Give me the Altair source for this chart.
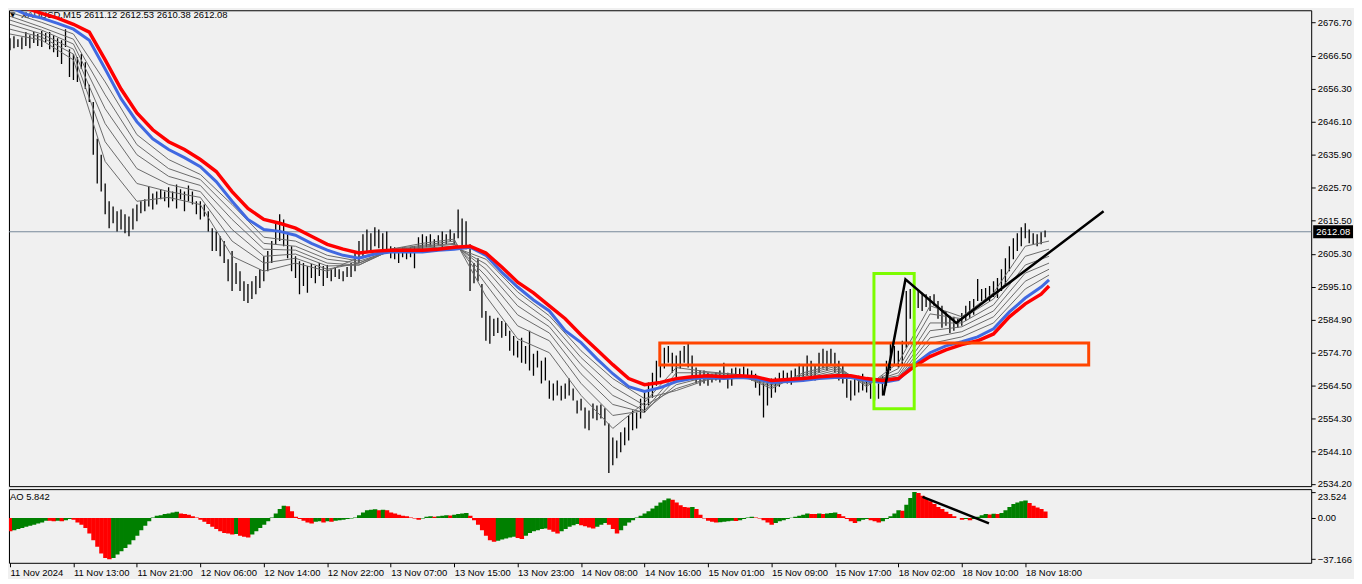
import altair as alt
import pandas as pd

# ---------------- data ----------------
symbol = "XAUUSD,M15"
last_ohlc = [2611.12, 2612.53, 2610.38, 2612.08]
last_price = 2612.08
ao_last = 5.842

price_ticks = [2534.20, 2544.10, 2554.30, 2564.50, 2574.70, 2584.90, 2595.10, 2605.30,
               2615.50, 2625.70, 2635.90, 2646.10, 2656.30, 2666.50, 2676.70]
time_labels = ["11 Nov 2024", "11 Nov 13:00", "11 Nov 21:00", "12 Nov 06:00", "12 Nov 14:00",
               "12 Nov 22:00", "13 Nov 07:00", "13 Nov 15:00", "13 Nov 23:00", "14 Nov 08:00",
               "14 Nov 16:00", "15 Nov 01:00", "15 Nov 09:00", "15 Nov 17:00", "18 Nov 02:00",
               "18 Nov 10:00", "18 Nov 18:00"]
bars_per_label = 32
ao_axis_values = [23.524, 0.0, -37.166]

# bar high / low (every second M15 bar)
bar_high = [
    2671.9, 2672.5, 2671.6, 2672.2, 2673.8, 2672.8, 2673.8, 2673.2, 2674.1, 2673.5,
    2673.8, 2672.8, 2671.9, 2671.3, 2674.7, 2668.5, 2667.0, 2666.1, 2667.0, 2664.5,
    2657.5, 2652.2, 2640.8, 2635.9, 2627.0, 2621.5, 2619.9, 2618.4, 2619.0, 2617.5,
    2616.8, 2619.3, 2620.5, 2621.5, 2622.1, 2626.1, 2623.9, 2624.5, 2625.2, 2624.5,
    2625.8, 2624.5, 2626.7, 2625.2, 2624.5, 2626.4, 2624.5, 2621.5, 2621.5, 2620.5,
    2618.4, 2613.2, 2612.2, 2610.7, 2609.2, 2603.6, 2606.1, 2602.4, 2599.9, 2596.8,
    2595.9, 2596.8, 2598.4, 2600.5, 2604.5, 2606.1, 2609.2, 2615.3, 2617.5, 2615.9,
    2611.3, 2607.6, 2604.5, 2603.0, 2602.4, 2601.5, 2602.1, 2601.5, 2602.4, 2601.5,
    2601.8, 2600.5, 2601.2, 2600.5, 2599.9, 2601.2, 2602.4, 2606.1, 2609.2, 2611.3,
    2612.8, 2611.6, 2613.5, 2612.8, 2611.6, 2612.2, 2607.6, 2607.3, 2606.7, 2607.3,
    2607.0, 2607.3, 2607.6, 2610.4, 2611.3, 2610.7, 2611.3, 2609.8, 2611.0, 2612.2,
    2611.3, 2612.8, 2611.6, 2619.0, 2616.2, 2615.3, 2608.2, 2602.4, 2603.9, 2595.9,
    2587.6, 2586.1, 2585.2, 2585.5, 2584.5, 2583.9, 2581.5, 2579.9, 2578.4, 2579.3,
    2576.8, 2581.5, 2574.4, 2575.3, 2572.2, 2573.2, 2566.1, 2565.2, 2566.1, 2564.5,
    2565.2, 2566.7, 2563.6, 2559.9, 2560.5, 2557.8, 2556.8, 2559.0, 2558.4, 2558.7,
    2557.5, 2552.8, 2548.5, 2547.6, 2550.1, 2551.6, 2555.3, 2556.8, 2556.2, 2560.5,
    2563.0, 2565.5, 2568.5, 2572.2, 2574.4, 2576.2, 2576.8, 2574.7, 2573.8, 2575.3,
    2576.8, 2577.5, 2573.8, 2570.1, 2569.2, 2569.2, 2568.5, 2568.2, 2568.5, 2569.2,
    2571.6, 2568.5, 2569.8, 2570.1, 2569.8, 2570.4, 2569.8, 2569.2, 2568.2, 2566.7,
    2565.2, 2566.1, 2566.7, 2567.0, 2568.5, 2569.2, 2568.5, 2569.2, 2569.8, 2571.3,
    2570.7, 2573.8, 2572.2, 2570.7, 2574.7, 2575.9, 2575.3, 2575.9, 2574.7, 2572.2,
    2570.7, 2567.0, 2566.1, 2567.0, 2567.6, 2568.2, 2566.7, 2565.5, 2564.5, 2565.2,
    2567.6, 2572.2, 2577.5, 2576.8, 2575.3, 2578.4, 2593.8, 2594.4, 2594.7, 2593.8,
    2593.2, 2592.8, 2592.2, 2592.8, 2590.7, 2589.2, 2587.6, 2586.1, 2585.8, 2585.2,
    2587.0, 2589.2, 2590.7, 2591.3, 2597.5, 2594.4, 2594.7, 2595.3, 2596.8, 2597.8,
    2600.5, 2603.9, 2607.6, 2610.1, 2611.6, 2613.5, 2614.7, 2612.8, 2611.6, 2611.3,
    2611.9, 2612.5]
bar_low = [
    2668.2, 2668.8, 2669.2, 2668.5, 2669.5, 2668.8, 2670.4, 2669.5, 2669.2, 2670.7,
    2668.5, 2667.6, 2666.1, 2663.9, 2669.2, 2659.9, 2659.0, 2658.4, 2662.4, 2656.2,
    2652.2, 2635.9, 2627.0, 2624.5, 2617.5, 2613.2, 2614.7, 2612.2, 2612.8, 2611.6,
    2610.7, 2612.8, 2615.3, 2617.8, 2618.4, 2619.9, 2619.0, 2620.5, 2622.1, 2621.5,
    2619.6, 2621.5, 2619.3, 2622.1, 2618.4, 2621.5, 2620.5, 2617.5, 2615.9, 2616.8,
    2612.2, 2606.1, 2606.1, 2604.5, 2602.4, 2596.8, 2593.8, 2595.9, 2593.8, 2590.7,
    2590.1, 2591.3, 2592.8, 2594.7, 2596.8, 2599.9, 2602.4, 2608.2, 2609.2, 2607.6,
    2603.9, 2599.9, 2597.8, 2592.8, 2595.3, 2593.2, 2597.8, 2596.2, 2598.4, 2595.3,
    2597.8, 2596.8, 2598.1, 2597.5, 2596.8, 2598.1, 2598.1, 2599.9, 2602.4, 2603.9,
    2605.5, 2606.1, 2607.6, 2607.0, 2606.1, 2606.7, 2603.9, 2603.6, 2602.4, 2604.2,
    2603.6, 2604.2, 2600.8, 2606.1, 2606.7, 2607.3, 2607.6, 2606.7, 2607.9, 2607.3,
    2608.2, 2609.2, 2607.9, 2610.1, 2607.6, 2606.7, 2593.8, 2596.2, 2596.8, 2585.5,
    2578.4, 2577.5, 2579.9, 2580.8, 2579.3, 2579.9, 2575.3, 2573.8, 2573.2, 2571.6,
    2571.3, 2569.2, 2567.6, 2570.1, 2565.2, 2566.1, 2560.5, 2559.9, 2561.5, 2559.9,
    2560.5, 2561.5, 2559.9, 2555.9, 2556.8, 2551.3, 2550.7, 2554.4, 2553.8, 2554.4,
    2552.2, 2537.5, 2539.9, 2542.1, 2543.9, 2546.1, 2547.6, 2550.7, 2551.3, 2554.4,
    2556.2, 2558.4, 2560.8, 2564.5, 2567.0, 2569.8, 2571.6, 2568.5, 2567.0, 2569.8,
    2571.6, 2570.1, 2566.1, 2565.2, 2564.5, 2565.2, 2564.5, 2565.5, 2566.1, 2565.5,
    2566.7, 2563.6, 2564.5, 2566.7, 2567.0, 2566.7, 2567.3, 2566.1, 2563.9, 2561.5,
    2554.7, 2558.4, 2560.8, 2562.4, 2564.2, 2565.5, 2565.2, 2564.8, 2566.1, 2566.1,
    2566.7, 2567.6, 2567.0, 2566.1, 2568.5, 2569.8, 2569.2, 2570.7, 2568.5, 2566.1,
    2565.2, 2560.8, 2559.9, 2561.5, 2562.4, 2563.0, 2562.4, 2560.5, 2559.9, 2560.5,
    2561.5, 2564.5, 2569.2, 2570.7, 2570.1, 2570.7, 2576.2, 2585.2, 2589.2, 2588.5,
    2587.6, 2588.8, 2587.6, 2589.2, 2585.2, 2582.4, 2583.0, 2580.8, 2581.5, 2582.4,
    2583.0, 2584.5, 2585.5, 2586.4, 2590.7, 2590.7, 2590.7, 2590.7, 2591.9, 2591.6,
    2593.8, 2595.9, 2599.9, 2603.6, 2606.1, 2607.6, 2610.1, 2608.5, 2608.2, 2607.6,
    2608.2, 2610.4]

# thick moving averages, every 8 bars plus the last bar
red_ma = [
    2683.3, 2681.2, 2679.6, 2678.1, 2676.2, 2673.8, 2665.2, 2656.2, 2648.8, 2643.6,
    2639.9, 2637.5, 2634.4, 2630.7, 2624.5, 2619.3, 2615.9, 2614.7, 2613.2, 2610.7,
    2608.2, 2606.7, 2605.5, 2606.1, 2606.4, 2606.4, 2606.4, 2606.7, 2607.3, 2607.6,
    2605.5, 2601.2, 2596.5, 2593.2, 2589.2, 2585.2, 2580.2, 2575.6, 2571.0, 2566.7,
    2564.8, 2565.5, 2566.7, 2567.3, 2567.6, 2567.3, 2567.6, 2567.3, 2566.1, 2566.4,
    2566.7, 2567.3, 2567.6, 2567.6, 2566.7, 2566.1, 2566.7, 2570.4, 2573.5, 2575.6,
    2577.2, 2578.4, 2580.5, 2585.8, 2589.8, 2592.8, 2595.3]
blue_ma = [
    2681.5, 2679.3, 2678.1, 2676.5, 2674.7, 2671.3, 2662.4, 2653.2, 2646.1, 2640.8,
    2637.5, 2635.0, 2632.2, 2627.6, 2621.5, 2615.9, 2612.8, 2612.2, 2611.0, 2608.5,
    2606.4, 2604.8, 2603.9, 2605.2, 2605.8, 2605.8, 2605.8, 2606.4, 2606.7, 2607.3,
    2604.8, 2599.6, 2595.0, 2591.0, 2587.6, 2581.5, 2577.8, 2572.8, 2568.2, 2564.2,
    2562.7, 2563.9, 2565.8, 2566.7, 2567.0, 2566.7, 2567.0, 2566.7, 2565.5, 2565.8,
    2566.1, 2566.7, 2567.0, 2567.0, 2566.1, 2565.5, 2566.4, 2571.0, 2574.7, 2576.8,
    2578.1, 2579.6, 2582.1, 2587.3, 2591.6, 2595.0, 2597.2]

# thin grey moving averages, every 16 bars plus the last bar (fastest first)
gray_ma_1 = [2673.2, 2671.3, 2665.2, 2633.8, 2621.5, 2622.7, 2620.5, 2604.5, 2599.9, 2602.4,
             2599.9, 2604.2, 2606.7, 2608.5, 2609.8, 2592.2, 2579.0, 2574.7, 2561.5, 2551.3,
             2559.3, 2570.1, 2568.8, 2567.9, 2563.6, 2568.5, 2571.0, 2564.2, 2571.6, 2589.2,
             2585.8, 2593.2, 2607.6, 2609.2]
gray_ma_2 = [2674.7, 2672.2, 2667.0, 2639.9, 2627.0, 2624.5, 2622.7, 2609.2, 2602.4, 2603.9,
             2600.5, 2602.4, 2606.7, 2607.9, 2609.2, 2595.9, 2583.0, 2578.4, 2565.2, 2555.3,
             2556.8, 2568.5, 2568.5, 2567.9, 2564.2, 2567.9, 2570.4, 2564.8, 2569.8, 2586.7,
             2585.2, 2591.3, 2604.5, 2606.7]
gray_ma_3 = [2676.2, 2673.2, 2668.5, 2645.5, 2631.6, 2626.7, 2624.5, 2612.8, 2604.5, 2605.2,
             2601.5, 2601.8, 2606.4, 2607.6, 2608.5, 2598.4, 2586.4, 2580.8, 2568.2, 2558.7,
             2556.2, 2566.7, 2567.9, 2567.6, 2564.8, 2567.3, 2569.8, 2565.2, 2568.5, 2583.9,
             2583.9, 2589.5, 2601.8, 2604.5]
gray_ma_4 = [2677.5, 2674.4, 2670.1, 2650.1, 2635.9, 2629.2, 2626.4, 2615.9, 2606.7, 2606.4,
             2602.4, 2601.8, 2606.4, 2607.3, 2608.2, 2600.5, 2589.2, 2582.7, 2571.0, 2561.5,
             2556.8, 2564.8, 2567.3, 2567.3, 2565.5, 2566.7, 2569.2, 2565.8, 2567.6, 2581.5,
             2582.7, 2587.6, 2599.3, 2602.4]
gray_ma_5 = [2678.7, 2675.3, 2671.6, 2654.4, 2639.0, 2631.6, 2628.2, 2618.4, 2608.5, 2607.6,
             2603.6, 2602.4, 2606.1, 2607.0, 2607.6, 2602.1, 2591.6, 2584.5, 2573.2, 2564.2,
             2558.4, 2563.6, 2566.7, 2567.0, 2565.8, 2566.4, 2568.5, 2566.1, 2567.0, 2579.3,
             2581.2, 2585.8, 2596.8, 2600.5]
gray_ma_6 = [2679.9, 2676.8, 2673.2, 2658.4, 2642.1, 2634.4, 2629.8, 2620.5, 2610.4, 2609.2,
             2604.8, 2603.0, 2606.1, 2606.7, 2607.3, 2603.6, 2593.5, 2586.1, 2575.3, 2566.7,
             2560.5, 2563.0, 2566.4, 2567.0, 2566.1, 2566.1, 2567.9, 2566.4, 2566.7, 2577.5,
             2579.6, 2583.9, 2594.4, 2598.7]
ma_last_bar = 524

# Awesome Oscillator, every second bar
ao_values = [
    -12, -11, -10, -9, -8, -7, -6, -5, -4, -2.5,
    -2.5, -3, -2.5, -3, -2, -1, -1.5, -4, -6, -9,
    -14, -20, -26, -32, -36, -37.166, -36, -33, -30, -27,
    -24, -20, -16, -11, -7, -3, 0.5, 2, 2.5, 3.5,
    4, 5, 5.5, 4, 3.5, 3, 1.5, 0.5, -1.5, -3.5,
    -5.5, -8, -10, -12, -13.5, -14, -15, -14.5, -16, -17,
    -17.5, -15, -12, -9, -6, -3, 0.5, 4, 8, 11,
    10.5, 6, 1, -1, -2.5, -4, -5, -3.5, -3, -4,
    -3, -3.5, -2.5, -2, -1.5, -1, -0.5, 0.5, 2.5, 5,
    7, 7.5, 7.8, 7, 7.5, 7, 5, 4, 3, 2,
    1.5, 0.5, -0.5, -1.5, -0.5, 1, 1.5, 1.2, 1.5, 2,
    2.5, 2.3, 3, 3.5, 4, 4.5, 2, -2, -6, -11,
    -16, -20, -21.5, -20.5, -19.5, -18.5, -17.5, -17, -18, -19,
    -16, -13.5, -12, -11, -10, -9.5, -10.5, -12.5, -14, -12,
    -10, -8, -6.5, -5.5, -6.5, -7.5, -8.5, -9.5, -8, -6,
    -4.5, -6, -10, -14, -11, -7, -4, -2, 0.5, 2,
    4, 6, 8.5, 11, 14, 16, 17.5, 16.5, 14, 11.5,
    10, 9.5, 10, 8, 3, -0.5, -2.5, -3.5, -4, -3.8,
    -3.5, -3, -2.5, -2.8, -2, -1, 0.5, 1, 0.5, -0.5,
    -2, -4, -6, -4.5, -3, -2, -1, 0.3, 1, 2,
    3, 4, 3.5, 3.5, 4, 3.5, 4, 4.5, 5, 3.5,
    1.5, -1, -3, -4.5, -3, -1.5, -1, -2, -3, -4,
    -3, -1, 1.5, 4, 7, 6.5, 12, 18, 23.524, 22.5,
    20, 17.5, 15, 12.5, 10, 8, 5.5, 3.5, 1.5, 0,
    -1.5, -1, -2, -1, 1, 2.5, 3.5, 3.2, 3.8, 3.5,
    4.5, 7, 10, 12.5, 14, 15, 15.8, 13.5, 11, 9.5,
    8, 5.8]

# drawn objects (bar index, price)
zigzag_bar = [440.5, 451.6, 477.2, 551.5]
zigzag_price = [2561.5, 2597.4, 2583.9, 2618.4]
ao_line_bar = [460.2, 493.7]
ao_line_value = [19.1, -4.8]
orange_box_bar = [327.7, 544.0]
orange_box_price = [2570.9, 2577.7]
green_box_bar = [435.7, 456.0]
green_box_price = [2557.4, 2599.2]

# ---------------- layout / style ----------------
FONT = "Liberation Sans"
FS = 9.5
W = 1308
H_MAIN = 478
H_AO = 74
xs = alt.Scale(domain=[-0.5, 656.2], nice=False, zero=False)
ys = alt.Scale(domain=[2533.46, 2680.54], nice=False, zero=False)
ao_s = alt.Scale(domain=[-40.4, 26.0], nice=False, zero=False)

x_none = alt.Axis(title=None, labels=False, ticks=False, domain=False, grid=False)
y_axis = alt.Axis(orient="right", values=price_ticks, format=".2f", title=None, grid=False,
                  domain=False, tickSize=4, tickColor="black", labelPadding=2,
                  labelFont=FONT, labelFontSize=FS, labelColor="black",
                  labelOverlap=False, labelFlush=False)

label_array = "[" + ",".join("'" + t + "'" for t in time_labels) + "]"
x_time_axis = alt.Axis(values=[bars_per_label * j for j in range(len(time_labels))],
                       labelExpr=label_array + "[round(datum.value / " + str(bars_per_label) + ")]",
                       title=None, grid=False, domain=False, tickSize=4, tickColor="black",
                       labelAlign="left", labelBaseline="top", labelPadding=1,
                       labelFont=FONT, labelFontSize=FS, labelColor="black",
                       labelOverlap=False, labelFlush=False)
ao_axis = alt.Axis(orient="right", values=ao_axis_values,
                   labelExpr="datum.value == 0 ? '0.00' : format(datum.value, '.3f')",
                   labelBaseline={"condition": {"test": "datum.value > 10", "value": "top"},
                                  "value": "middle"},
                   title=None, grid=False, domain=False, tickSize=4, tickColor="black",
                   labelPadding=2, labelFont=FONT, labelFontSize=FS, labelColor="black",
                   labelOverlap=False, labelFlush=False)

X = lambda f: alt.X(f, scale=xs, axis=x_none)
Y = lambda f: alt.Y(f, scale=ys, axis=y_axis)

# ---------------- tables ----------------
bars_df = pd.DataFrame({"bar": [2 * k for k in range(len(bar_high))],
                        "high": bar_high, "low": bar_low})

idx8 = [8 * m for m in range(len(red_ma) - 1)] + [ma_last_bar]
idx16 = [16 * n for n in range(len(gray_ma_1) - 1)] + [ma_last_bar]
red_df = pd.DataFrame({"bar": idx8, "v": red_ma})
blue_df = pd.DataFrame({"bar": idx8, "v": blue_ma})
gray_rows = []
for name, series in [("g1", gray_ma_1), ("g2", gray_ma_2), ("g3", gray_ma_3),
                     ("g4", gray_ma_4), ("g5", gray_ma_5), ("g6", gray_ma_6)]:
    for b, v in zip(idx16, series):
        gray_rows.append({"series": name, "bar": b, "v": v})
gray_df = pd.DataFrame(gray_rows)

last_df = pd.DataFrame({"price": [last_price]})
title_df = pd.DataFrame({"label": [symbol + "  " + " ".join(f"{v:.2f}" for v in last_ohlc)]})
zz_df = pd.DataFrame({"bar": zigzag_bar, "price": zigzag_price, "o": list(range(len(zigzag_bar)))})
boxes_df = pd.DataFrame({
    "b0": [orange_box_bar[0], green_box_bar[0]], "b1": [orange_box_bar[1], green_box_bar[1]],
    "p0": [orange_box_price[0], green_box_price[0]], "p1": [orange_box_price[1], green_box_price[1]],
    "kind": ["orange", "green"]})

ao_dir = ["down"] + ["up" if ao_values[j] > ao_values[j - 1] else "down"
                     for j in range(1, len(ao_values))]
ao_df = pd.DataFrame({"bar": [2 * k for k in range(len(ao_values))], "ao": ao_values, "dir": ao_dir})
ao_line_df = pd.DataFrame({"bar": ao_line_bar, "ao": ao_line_value})
ao_lbl_df = pd.DataFrame({"label": [f"AO {ao_last}"]})

# ---------------- main panel ----------------
price_line = alt.Chart(last_df).mark_rule(color="#778899", strokeWidth=1).encode(
    y=Y("price:Q"))
tri = alt.Chart(title_df).mark_text(text="\u25bc", align="left", baseline="middle",
                                    fontSize=7, color="black", font="DejaVu Sans").encode(
    x=alt.value(1), y=alt.value(5))
title = alt.Chart(title_df).mark_text(align="left", baseline="middle", fontSize=FS,
                                      font=FONT, color="black").encode(
    x=alt.value(12), y=alt.value(5), text="label:N")
bars = alt.Chart(bars_df).mark_rule(color="black", strokeWidth=1.3, clip=True).encode(
    x=X("bar:Q"), y=Y("high:Q"), y2="low:Q")
grays = alt.Chart(gray_df).mark_line(color="#6a6a6a", strokeWidth=1, clip=True).encode(
    x=X("bar:Q"), y=Y("v:Q"), detail="series:N")
blue = alt.Chart(blue_df).mark_line(color="#4169E1", strokeWidth=3, clip=True).encode(
    x=X("bar:Q"), y=Y("v:Q"))
red = alt.Chart(red_df).mark_line(color="#FF0000", strokeWidth=3.5, clip=True).encode(
    x=X("bar:Q"), y=Y("v:Q"))
boxes = alt.Chart(boxes_df).mark_rect(filled=False, strokeWidth=3, clip=True).encode(
    x=X("b0:Q"), x2="b1:Q", y=Y("p0:Q"), y2="p1:Q",
    stroke=alt.Stroke("kind:N", scale=alt.Scale(domain=["orange", "green"],
                                                range=["#FF4500", "#7CFC00"]), legend=None))
zz = alt.Chart(zz_df).mark_line(color="black", strokeWidth=2.5, clip=True).encode(
    x=X("bar:Q"), y=Y("price:Q"), order="o:Q")
price_box = alt.Chart(last_df).mark_rect(color="black", yOffset=-6.5, y2Offset=6.5,
                                         clip=False).encode(
    x=alt.value(W + 2), x2=alt.value(W + 42), y=Y("price:Q"), y2="price:Q")
price_txt = alt.Chart(last_df).mark_text(align="left", baseline="middle", fontSize=FS,
                                         font=FONT, color="white", clip=False).encode(
    x=alt.value(W + 5), y=Y("price:Q"), text=alt.Text("price:Q", format=".2f"))

main = alt.layer(price_line, title, tri, bars, grays, blue, red, boxes, zz,
                 price_box, price_txt).properties(width=W, height=H_MAIN)

# ---------------- AO panel ----------------
XA = lambda f: alt.X(f, scale=xs, axis=x_time_axis)
YA = lambda f: alt.Y(f, scale=ao_s, axis=ao_axis, stack=None)
ao_colors = alt.Scale(domain=["up", "down"], range=["#008000", "#FF0000"])
ao_bars = alt.Chart(ao_df).transform_calculate(
    x0="datum.bar - 1", x1="datum.bar + 1.25").mark_bar(clip=True).encode(
    x=XA("x0:Q"), x2="x1:Q", y=YA("ao:Q"), y2=alt.datum(0),
    color=alt.Color("dir:N", scale=ao_colors, legend=None))
ao_line = alt.Chart(ao_line_df).mark_line(color="black", strokeWidth=2.5, clip=True).encode(
    x=XA("bar:Q"), y=YA("ao:Q"))
ao_lbl = alt.Chart(ao_lbl_df).mark_text(align="left", baseline="middle", fontSize=FS,
                                        font=FONT, color="black").encode(
    x=alt.value(1), y=alt.value(8), text="label:N")
ao = alt.layer(ao_bars, ao_line, ao_lbl).properties(width=W, height=H_AO)

chart = alt.vconcat(main, ao, spacing=3, bounds="flush").properties(
    padding={"left": 0, "right": 0, "top": 0, "bottom": 0},
    background="#F0F0F0"
).configure_view(stroke="black", strokeWidth=1, fill="#F0F0F0")

chart.save("out.html", embed_options={"renderer": "svg", "actions": False})
